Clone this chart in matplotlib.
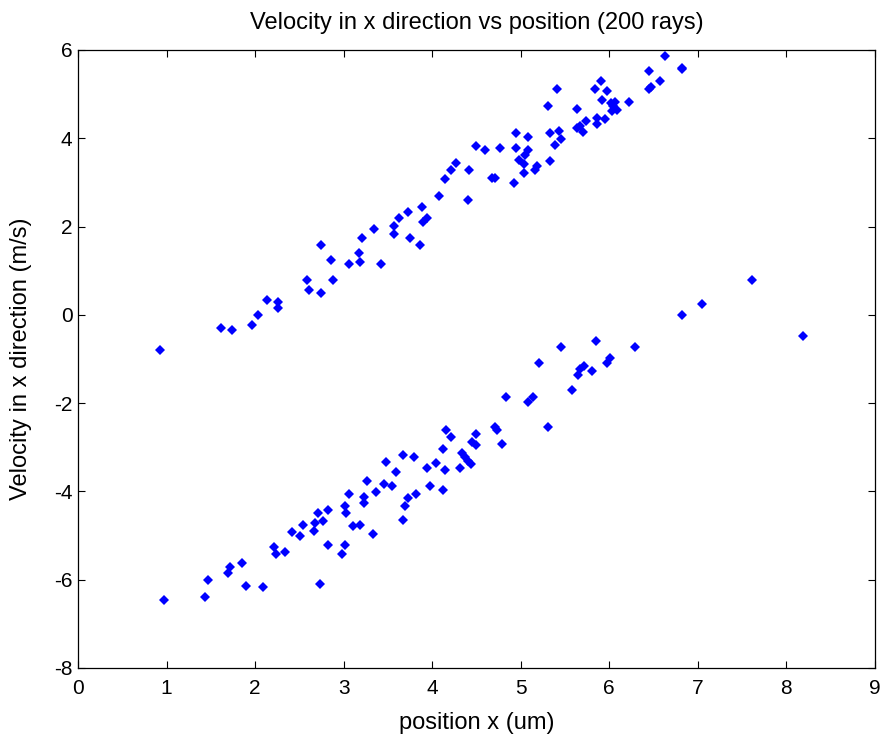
import numpy as np
import matplotlib.pyplot as plt

plt.rcParams['font.family'] = ['Liberation Sans', 'DejaVu Sans']
plt.rcParams['axes.unicode_minus'] = False

# upper branch (positive-ish velocities)
x_up = [0.93, 1.61, 1.74, 1.97, 2.03, 2.13, 2.26, 2.26, 2.59, 2.61, 2.74, 2.75,
        2.86, 2.88, 3.06, 3.17, 3.19, 3.21, 3.34, 3.42, 3.57, 3.57, 3.63, 3.73,
        3.75, 3.86, 3.88, 3.90, 3.94, 4.08, 4.15, 4.21, 4.27, 4.40, 4.42, 4.50,
        4.60, 4.67, 4.71, 4.77, 4.92, 4.95, 4.95, 4.98, 5.04, 5.04, 5.05, 5.08,
        5.08, 5.16, 5.18, 5.31, 5.33, 5.33, 5.39, 5.41, 5.43, 5.46, 5.63, 5.64,
        5.67, 5.70, 5.74, 5.84, 5.86, 5.86, 5.91, 5.92, 5.95, 5.97, 6.02, 6.03,
        6.04, 6.07, 6.09, 6.22, 6.45, 6.45, 6.47, 6.57, 6.63, 6.82, 6.82]
v_up = [-0.80, -0.30, -0.35, -0.22, -0.01, 0.33, 0.29, 0.15, 0.79, 0.57, 0.49, 1.58,
        1.25, 0.79, 1.16, 1.41, 1.20, 1.74, 1.95, 1.16, 2.01, 1.83, 2.20, 2.33,
        1.75, 1.59, 2.45, 2.11, 2.20, 2.70, 3.07, 3.28, 3.44, 2.61, 3.28, 3.82,
        3.74, 3.11, 3.11, 3.78, 2.98, 4.12, 3.78, 3.50, 3.41, 3.22, 3.62, 4.02,
        3.73, 3.28, 3.37, 4.74, 4.12, 3.49, 3.85, 5.11, 4.17, 3.99, 4.23, 4.66,
        4.28, 4.15, 4.38, 5.11, 4.46, 4.33, 5.29, 4.86, 4.44, 5.06, 4.79, 4.62,
        4.72, 4.83, 4.64, 4.83, 5.53, 5.11, 5.15, 5.29, 5.87, 5.60, 5.57]

# lower branch
x_low = [0.97, 1.43, 1.47, 1.69, 1.72, 1.85, 1.90, 2.09, 2.21, 2.24, 2.34, 2.42,
         2.51, 2.54, 2.66, 2.68, 2.71, 2.73, 2.77, 2.82, 2.82, 2.98, 3.01, 3.01,
         3.03, 3.06, 3.11, 3.19, 3.23, 3.23, 3.26, 3.33, 3.36, 3.46, 3.48, 3.55,
         3.59, 3.67, 3.67, 3.69, 3.73, 3.79, 3.82, 3.94, 3.98, 4.04, 4.12, 4.12,
         4.15, 4.16, 4.21, 4.31, 4.34, 4.37, 4.41, 4.44, 4.45, 4.50, 4.50, 4.71,
         4.73, 4.79, 4.83, 5.08, 5.14, 5.21, 5.31, 5.45, 5.58, 5.65, 5.67, 5.71,
         5.81, 5.85, 5.97, 6.01, 6.29, 6.82, 7.05, 7.61, 8.19]
v_low = [-6.46, -6.40, -6.00, -5.85, -5.72, -5.63, -6.14, -6.17, -5.27, -5.42, -5.38, -4.91,
         -5.01, -4.76, -4.89, -4.71, -4.50, -6.09, -4.67, -4.42, -5.21, -5.42, -4.33, -5.21,
         -4.50, -4.05, -4.78, -4.76, -4.12, -4.26, -3.76, -4.97, -4.01, -3.84, -3.34, -3.87,
         -3.55, -3.17, -4.64, -4.33, -4.14, -3.21, -4.05, -3.47, -3.88, -3.35, -3.05, -3.96,
         -3.51, -2.61, -2.76, -3.47, -3.12, -3.23, -3.31, -3.38, -2.89, -2.70, -2.94, -2.53,
         -2.61, -2.92, -1.87, -1.97, -1.87, -1.10, -2.54, -0.72, -1.71, -1.36, -1.23, -1.16,
         -1.27, -0.59, -1.10, -0.97, -0.72, -0.01, 0.24, 0.79, -0.47]

fig = plt.figure(figsize=(8.82, 7.36), dpi=100)
ax = fig.add_axes([0.0884, 0.0924, 0.9036, 0.8397])

ax.plot(x_up + x_low, v_up + v_low, 'D', color='#0000ff', markersize=5,
        markeredgewidth=0)

ax.set_xlim(0, 9)
ax.set_ylim(-8, 6)
ax.set_xticks(range(0, 10))
ax.set_yticks(range(-8, 7, 2))
ax.tick_params(direction='in', length=5, width=0.8, top=True, right=True,
               labelsize=15, pad=4)
ax.tick_params(axis='x', pad=8)
for s in ax.spines.values():
    s.set_linewidth(0.9)

ax.set_title('Velocity in x direction vs position (200 rays)', fontsize=17, pad=15)
ax.set_xlabel('position x (um)', fontsize=17, labelpad=10)
ax.set_ylabel('Velocity in x direction (m/s)', fontsize=17, labelpad=16)

fig.savefig('out.png', dpi=100)
